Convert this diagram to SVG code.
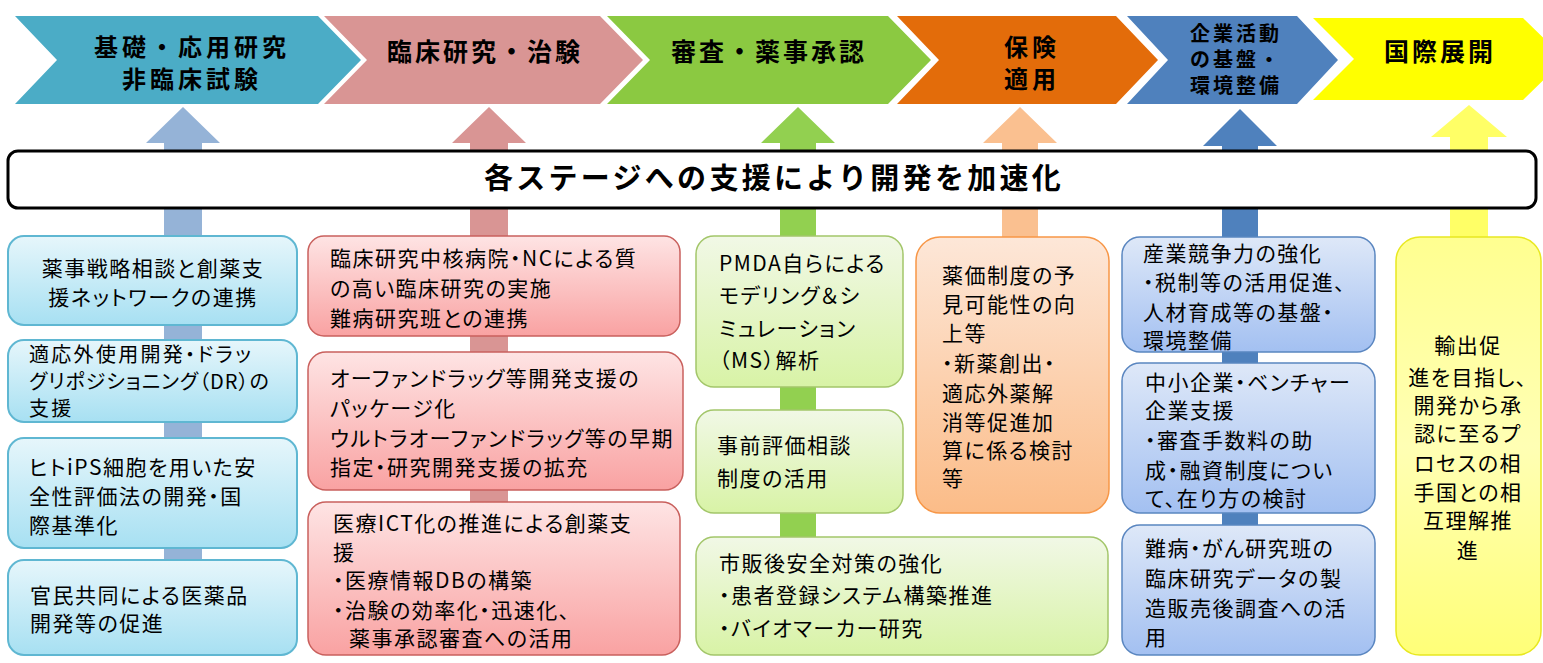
<svg xmlns="http://www.w3.org/2000/svg" width="1543" height="663" viewBox="0 0 1543 663">
<defs>
<style>
.ct{font-family:"Noto Sans CJK JP","Noto Sans",sans-serif;font-weight:bold;font-size:25px;fill:#000;letter-spacing:3px;text-anchor:middle}
.ct2{font-family:"Noto Sans CJK JP","Noto Sans",sans-serif;font-weight:bold;font-size:24px;fill:#000;letter-spacing:4px;text-anchor:middle}
.ct5{font-family:"Noto Sans CJK JP","Noto Sans",sans-serif;font-weight:bold;font-size:20px;fill:#000;letter-spacing:3px;text-anchor:middle}
.bt{font-family:"Noto Sans CJK JP","Noto Sans",sans-serif;font-size:21px;fill:#000;letter-spacing:1.5px;font-feature-settings:"palt"}
.sm{font-size:20px;letter-spacing:2.3px}
.mid{text-anchor:middle}
.tight{letter-spacing:1px}
.banner-t{font-family:"Noto Sans CJK JP","Noto Sans",sans-serif;font-weight:bold;font-size:29px;fill:#000;letter-spacing:3.3px;text-anchor:middle}
.b1{fill:url(#gCyan);stroke:#5FB7D2;stroke-width:2}
.b2{fill:url(#gPink);stroke:#C9605D;stroke-width:1.5}
.b3{fill:url(#gGreen);stroke:#A3C66A;stroke-width:1.5}
.b4{fill:url(#gOrange);stroke:#F79646;stroke-width:1.5}
.b5{fill:url(#gBlue);stroke:#5A86C0;stroke-width:1.5}
.b6{fill:url(#gYellow);stroke:#E8E820;stroke-width:1.5}
</style>
<linearGradient id="gCyan" x1="0" y1="0" x2="0" y2="1"><stop offset="0" stop-color="#E6F6FB"/><stop offset="1" stop-color="#A7E0F2"/></linearGradient>
<linearGradient id="gPink" x1="0" y1="0" x2="0" y2="1"><stop offset="0" stop-color="#FEE4E4"/><stop offset="1" stop-color="#F9A2A2"/></linearGradient>
<linearGradient id="gGreen" x1="0" y1="0" x2="0" y2="1"><stop offset="0" stop-color="#F1F8E6"/><stop offset="1" stop-color="#D8F3A6"/></linearGradient>
<linearGradient id="gOrange" x1="0" y1="0" x2="0" y2="1"><stop offset="0" stop-color="#FDE7D8"/><stop offset="1" stop-color="#FBBC88"/></linearGradient>
<linearGradient id="gBlue" x1="0" y1="0" x2="0" y2="1"><stop offset="0" stop-color="#DEE8F8"/><stop offset="1" stop-color="#A3C0F1"/></linearGradient>
<linearGradient id="gYellow" x1="0" y1="0" x2="0" y2="1"><stop offset="0" stop-color="#FFFF90"/><stop offset="0.5" stop-color="#FFFFB4"/><stop offset="1" stop-color="#FFFF78"/></linearGradient>
</defs>
<rect width="1543" height="663" fill="#FFFFFF"/>

<!-- stage chevrons -->
<g id="stage1">
<polygon points="15,16 318,16 361,60 318,104 15,104 57,60" fill="#4BACC6"/>
<text class="ct2" x="192" y="56">基礎・応用研究</text>
<text class="ct2" x="192" y="88">非臨床試験</text>
</g>
<g id="stage2">
<polygon points="324,16 600,16 643,60 600,104 324,104 367,60" fill="#D99594"/>
<text class="ct" x="485" y="61">臨床研究・治験</text>
</g>
<g id="stage3">
<polygon points="607,16 888,16 931,60 888,104 607,104 650,60" fill="#8BC941"/>
<text class="ct" x="769" y="61">審査・薬事承認</text>
</g>
<g id="stage4">
<polygon points="897,16 1116,16 1158,60 1116,104 897,104 939,60" fill="#E36C0A"/>
<text class="ct2" x="1032" y="56">保険</text>
<text class="ct2" x="1032" y="88">適用</text>
</g>
<g id="stage5">
<polygon points="1127,16 1297,16 1338,60 1297,104 1127,104 1168,60" fill="#4F81BD"/>
<text class="ct5" x="1236" y="41">企業活動</text>
<text class="ct5" x="1236" y="67">の基盤・</text>
<text class="ct5" x="1236" y="93">環境整備</text>
</g>
<g id="stage6">
<polygon points="1313,18 1523,18 1565,59 1523,100 1313,100 1354,59" fill="#FFFF00"/>
<text class="ct" x="1440" y="61">国際展開</text>
</g>

<!-- up arrows (connectors) -->
<g id="connectors">
<polygon points="183,107 220,143 202,143 202,620 164,620 164,143 146,143" fill="#95B3D7"/>
<polygon points="489,107 526,143 508,143 508,620 470,620 470,143 452,143" fill="#D99594"/>
<polygon points="798,107 835,143 816,143 816,620 780,620 780,143 761,143" fill="#92D050"/>
<polygon points="1020,107 1057,143 1038,143 1038,400 1002,400 1002,143 983,143" fill="#FAC090"/>
<polygon points="1240,109 1277,146 1258,146 1258,620 1222,620 1222,146 1203,146" fill="#4F81BD"/>
<polygon points="1469,105 1507,137 1488,137 1488,400 1450,400 1450,137 1431,137" fill="#FFFF66"/>
</g>

<!-- banner -->
<g id="banner">
<rect x="8" y="151" width="1528" height="57" rx="10" ry="10" fill="#FFFFFF" stroke="#000" stroke-width="3"/>
<text class="banner-t" x="774" y="189">各ステージへの支援により開発を加速化</text>
</g>

<!-- column 1 -->
<g id="boxA">
<rect class="b1" x="8" y="236" width="289" height="89" rx="16"/>
<text class="bt mid" x="153" y="276">薬事戦略相談と創薬支</text>
<text class="bt mid" x="153" y="305">援ネットワークの連携</text>
</g>
<g id="boxB">
<rect class="b1" x="8" y="340" width="289" height="82" rx="16"/>
<text class="bt sm" x="29" y="362">適応外使用開発・ドラッ</text>
<text class="bt sm tight" x="29" y="389">グリポジショニング（DR）の</text>
<text class="bt sm" x="29" y="416">支援</text>
</g>
<g id="boxC">
<rect class="b1" x="8" y="438" width="289" height="110" rx="16"/>
<text class="bt" x="29" y="475">ヒトiPS細胞を用いた安</text>
<text class="bt" x="29" y="504">全性評価法の開発・国</text>
<text class="bt" x="29" y="533">際基準化</text>
</g>
<g id="boxD">
<rect class="b1" x="8" y="560" width="289" height="95" rx="16"/>
<text class="bt" x="30" y="603">官民共同による医薬品</text>
<text class="bt" x="30" y="631">開発等の促進</text>
</g>

<!-- column 2 -->
<g id="boxE">
<rect class="b2" x="308" y="236" width="372" height="100" rx="16"/>
<text class="bt" x="330" y="266">臨床研究中核病院・NCによる質</text>
<text class="bt" x="330" y="296">の高い臨床研究の実施</text>
<text class="bt" x="330" y="326">難病研究班との連携</text>
</g>
<g id="boxF">
<rect class="b2" x="308" y="352" width="375" height="138" rx="18"/>
<text class="bt" x="330" y="386">オーファンドラッグ等開発支援の</text>
<text class="bt" x="330" y="416">パッケージ化</text>
<text class="bt" x="330" y="446">ウルトラオーファンドラッグ等の早期</text>
<text class="bt" x="330" y="475">指定・研究開発支援の拡充</text>
</g>
<g id="boxG">
<rect class="b2" x="308" y="502" width="372" height="153" rx="18"/>
<text class="bt" x="333" y="531">医療ICT化の推進による創薬支</text>
<text class="bt" x="333" y="560">援</text>
<text class="bt" x="333" y="588">・医療情報DBの構築</text>
<text class="bt" x="333" y="618">・治験の効率化・迅速化、</text>
<text class="bt" x="349" y="646">薬事承認審査への活用</text>
</g>

<!-- column 3 -->
<g id="boxH">
<rect class="b3" x="696" y="236" width="207" height="151" rx="18"/>
<text class="bt" x="719" y="271">PMDA自らによる</text>
<text class="bt" x="719" y="303">モデリング＆シ</text>
<text class="bt" x="719" y="336">ミュレーション</text>
<text class="bt" x="719" y="368">（MS）解析</text>
</g>
<g id="boxI">
<rect class="b3" x="696" y="410" width="207" height="103" rx="18"/>
<text class="bt" x="717" y="453">事前評価相談</text>
<text class="bt" x="717" y="486">制度の活用</text>
</g>
<g id="boxJ">
<rect class="b3" x="696" y="537" width="412" height="118" rx="18"/>
<text class="bt" x="719" y="571">市販後安全対策の強化</text>
<text class="bt" x="719" y="603">・患者登録システム構築推進</text>
<text class="bt" x="719" y="636">・バイオマーカー研究</text>
</g>
<g id="boxK">
<rect class="b4" x="916" y="237" width="193" height="276" rx="24"/>
<text class="bt" x="942" y="283">薬価制度の予</text>
<text class="bt" x="942" y="312">見可能性の向</text>
<text class="bt" x="942" y="341">上等</text>
<text class="bt" x="942" y="371">・新薬創出・</text>
<text class="bt" x="942" y="401">適応外薬解</text>
<text class="bt" x="942" y="430">消等促進加</text>
<text class="bt" x="942" y="458">算に係る検討</text>
<text class="bt" x="942" y="486">等</text>
</g>

<!-- column 4 -->
<g id="boxL">
<rect class="b5" x="1122" y="237" width="253" height="115" rx="18"/>
<text class="bt" x="1143" y="261">産業競争力の強化</text>
<text class="bt" x="1143" y="290">・税制等の活用促進、</text>
<text class="bt" x="1143" y="320">人材育成等の基盤・</text>
<text class="bt" x="1143" y="348">環境整備</text>
</g>
<g id="boxM">
<rect class="b5" x="1122" y="363" width="253" height="150" rx="18"/>
<text class="bt" x="1145" y="390">中小企業・ベンチャー</text>
<text class="bt" x="1145" y="418">企業支援</text>
<text class="bt" x="1145" y="448">・審査手数料の助</text>
<text class="bt" x="1145" y="478">成・融資制度につい</text>
<text class="bt" x="1145" y="506">て、在り方の検討</text>
</g>
<g id="boxN">
<rect class="b5" x="1122" y="525" width="253" height="130" rx="18"/>
<text class="bt" x="1145" y="556">難病・がん研究班の</text>
<text class="bt" x="1145" y="586">臨床研究データの製</text>
<text class="bt" x="1145" y="616">造販売後調査への活</text>
<text class="bt" x="1145" y="645">用</text>
</g>

<!-- column 5 -->
<g id="boxO">
<rect class="b6" x="1396" y="237" width="145" height="418" rx="24"/>
<text class="bt mid" x="1468" y="353">輸出促</text>
<text class="bt mid" x="1468" y="385">進を目指し、</text>
<text class="bt mid" x="1468" y="413">開発から承</text>
<text class="bt mid" x="1468" y="441">認に至るプ</text>
<text class="bt mid" x="1468" y="471">ロセスの相</text>
<text class="bt mid" x="1468" y="500">手国との相</text>
<text class="bt mid" x="1468" y="528">互理解推</text>
<text class="bt mid" x="1468" y="558">進</text>
</g>
</svg>
